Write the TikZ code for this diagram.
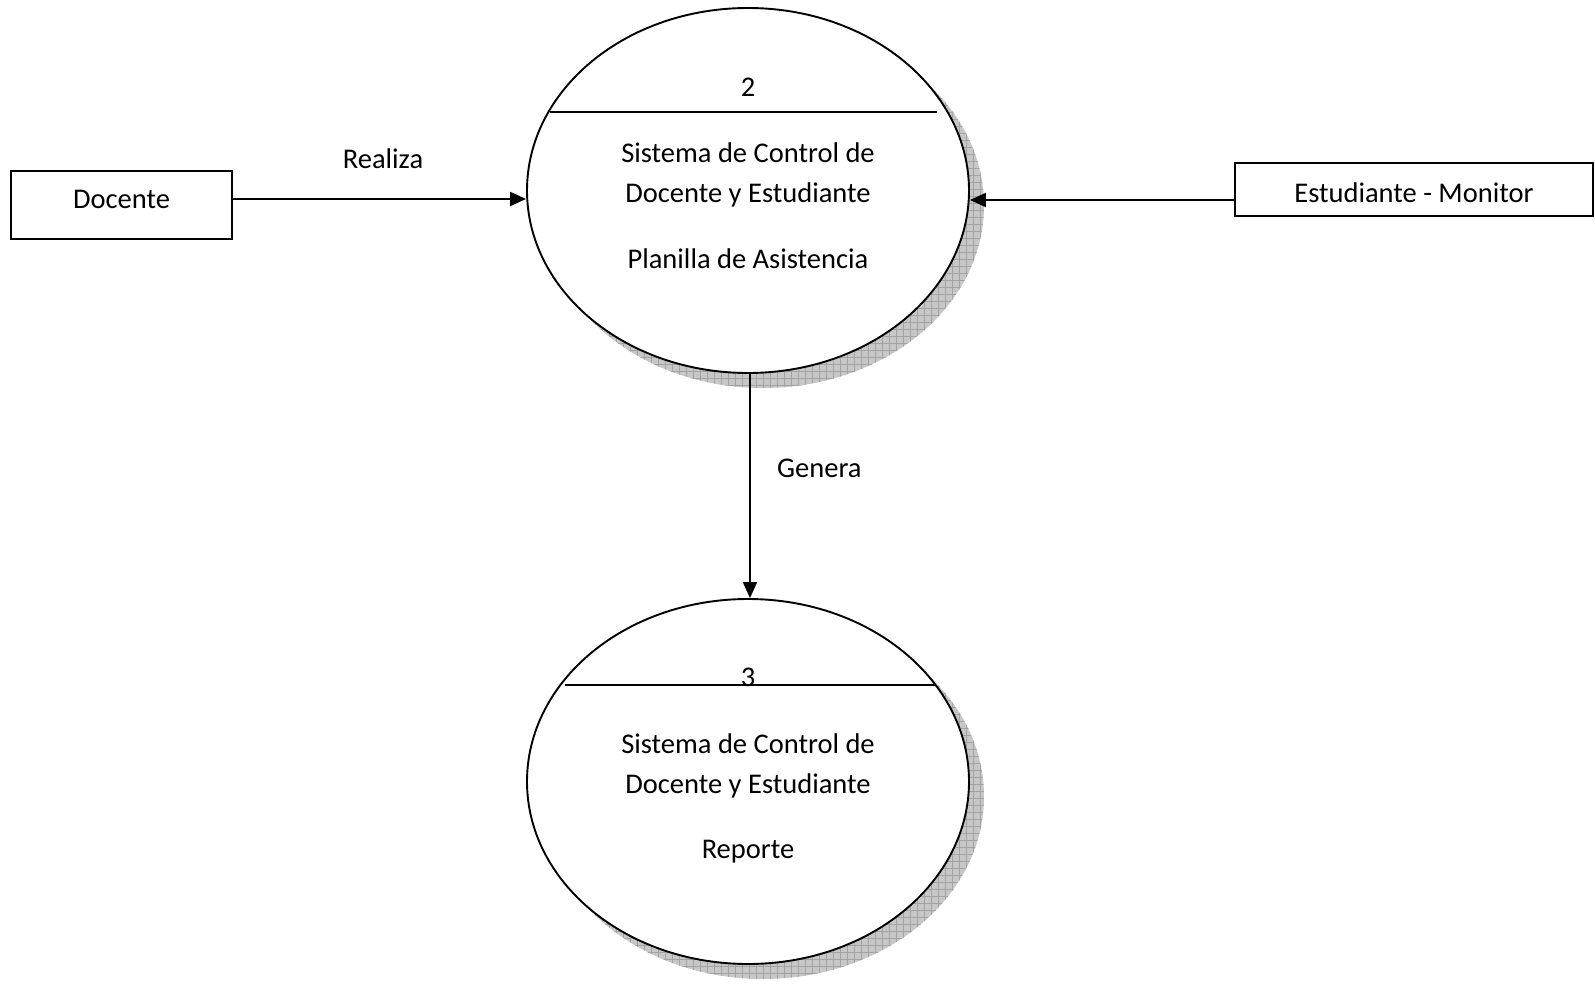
\documentclass[tikz,border=0pt]{standalone}
\usepackage{fontspec}
\setmainfont{Carlito}
\usetikzlibrary{arrows.meta,shapes.geometric}
\begin{document}
\begin{tikzpicture}[x=1pt,y=-1pt,
  txt/.style={font=\fontsize{28.5}{34}\selectfont, inner sep=0pt},
  lbl/.style={txt, anchor=base},
  entity/.style={txt, draw, line width=1.9pt, rectangle, align=center},
  process/.style={draw, line width=1.9pt, ellipse, fill=white,
    minimum width=442pt, minimum height=365pt, inner sep=0pt},
  divider/.style={line width=1.9pt},
  flow/.style={line width=1.9pt, -{Triangle[length=16pt,width=14pt]}},
  shadowbase/.style={fill=black!22},
  shadowgrid/.style={draw=black!36, line width=0.5pt}]
\useasboundingbox (0,0) rectangle (1595,984);

% hatched drop shadows behind the two processes
\foreach \cy in {190.5,781.5}{
  \begin{scope}
    \clip (763,\cy+15) ellipse [x radius=221pt, y radius=182.5pt];
    \fill[shadowbase] (530,\cy-175) rectangle (995,\cy+205);
    \draw[shadowgrid, step=7pt] (530,\cy-175) grid (995,\cy+205);
  \end{scope}
}

% processes
\node[process] (e1) at (748,190.5) {};
\node[process] (e2) at (748,781.5) {};

% process 2
\coordinate (d1l) at (550,112);
\coordinate (d1r) at (937,112);
\draw[divider] (d1l) -- (d1r);
\node[lbl] (n2) at (748,97) {2};
\node[lbl] (p2a) at (748,163) {Sistema de Control de};
\node[lbl] (p2b) at (748,203) {Docente y Estudiante};
\node[lbl] (p2c) at (748,269) {Planilla de Asistencia};

% process 3
\coordinate (d2l) at (565,685);
\coordinate (d2r) at (935,685);
\draw[divider] (d2l) -- (d2r);
\node[lbl] (n3) at (748,686) {3};
\node[lbl] (p3a) at (748,753) {Sistema de Control de};
\node[lbl] (p3b) at (748,793) {Docente y Estudiante};
\node[lbl] (p3c) at (748,858) {Reporte};

% external entities
\node[entity, minimum width=221pt, minimum height=68pt,
      text height=18pt, text depth=10pt] (doc) at (121.5,205) {Docente};
\node[entity, minimum width=358pt, minimum height=53pt,
      text height=27pt, text depth=0pt] (est) at (1414,189.5) {Estudiante - Monitor};

% data flows
\path ([yshift=6pt]doc.east) coordinate (fa);
\draw[flow] (fa) -- (fa -| e1.west);
\path ([yshift=-10.5pt]est.west) coordinate (fb);
\draw[flow] (fb) -- (fb -| e1.east);
\draw[flow] ([xshift=2pt]e1.south) -- ([xshift=2pt]e2.north);

\node[lbl] (realiza) at (383,169) {Realiza};
\node[lbl, anchor=base west] (genera) at (777,477) {Genera};
\end{tikzpicture}
\end{document}
